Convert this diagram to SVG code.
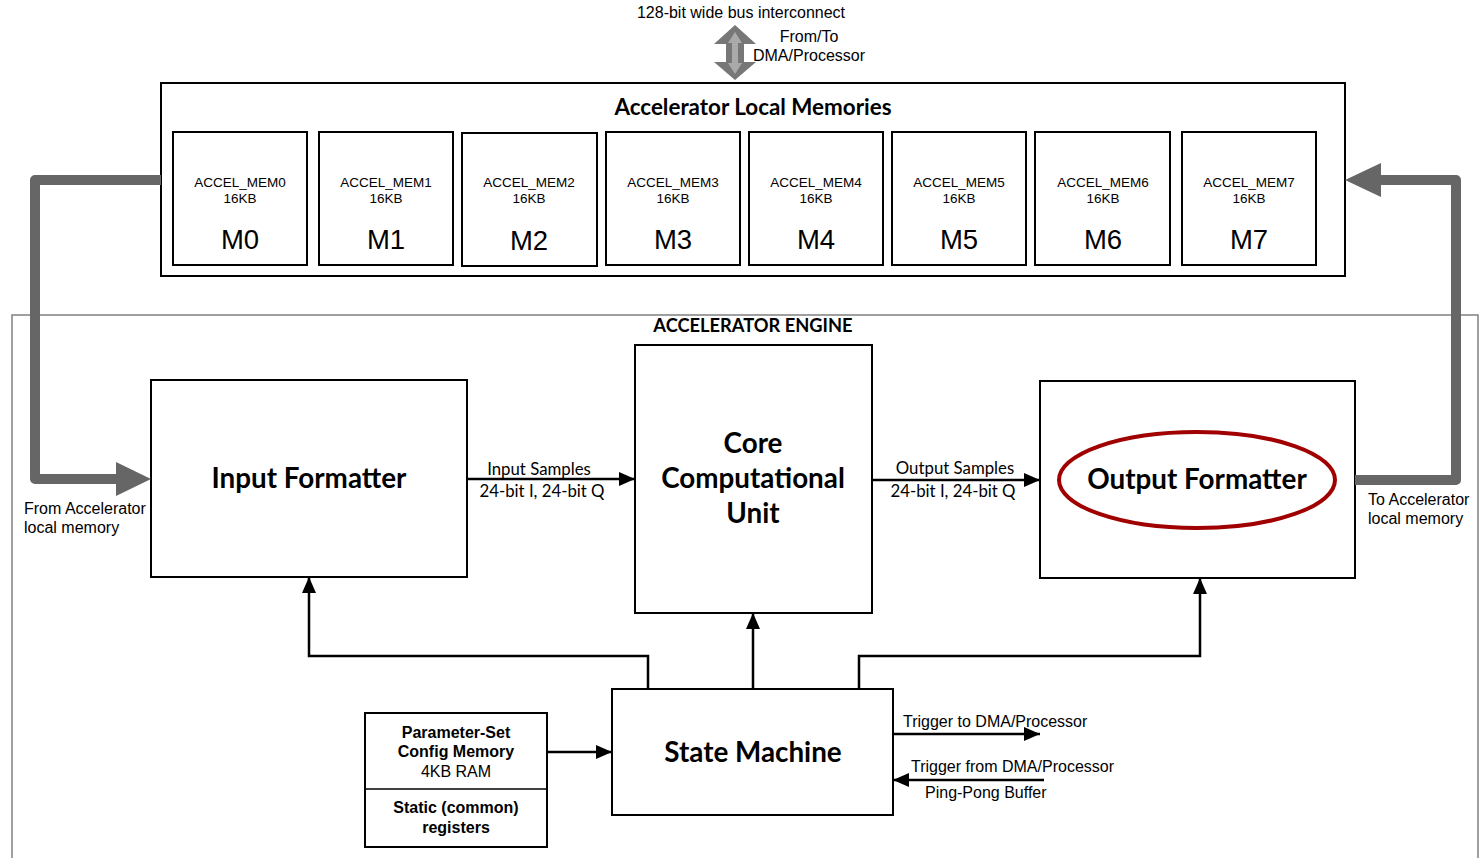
<svg xmlns="http://www.w3.org/2000/svg" width="1482" height="858" viewBox="0 0 1482 858">
<defs>
<style>
.box{fill:#fff;stroke:#000;stroke-width:2}
.ar{font-family:"Liberation Sans",Arial,sans-serif;fill:#000}
.ca{font-family:Lato,"Open Sans",sans-serif;fill:#000}
.b{font-weight:bold}
.mt{font-size:13.5px;text-anchor:middle}
.mb{font-size:27.5px;text-anchor:middle}
.big{font-size:27.8px;font-weight:bold;text-anchor:middle}
.lbl{font-size:16px}
.cl{font-size:16.8px}
.ln{fill:none;stroke:#000;stroke-width:2.5}
.thick{fill:none;stroke:#666;stroke-width:10;stroke-linejoin:round}
</style>
<marker id="ah2" viewBox="0 0 16 14" refX="16" refY="7" markerWidth="16" markerHeight="14" markerUnits="userSpaceOnUse" orient="auto">
<path d="M0,0 L16,7 L0,14 Z" fill="#000"/>
</marker>
</defs>
<rect width="1482" height="858" fill="#fff"/>

<g id="bus">
<text class="ar lbl" x="741" y="18" text-anchor="middle">128-bit wide bus interconnect</text>
<polygon points="735,25 756,44 744,44 744,62 756,62 735,80 714,62 726,62 726,44 714,44" fill="#777"/>
<polygon points="735,32 742,43 738,43 738,63 742,63 735,74 728,63 732,63 732,43 728,43" fill="#aaa"/>
<text class="ar lbl" x="809" y="42" text-anchor="middle">From/To</text>
<text class="ar lbl" x="809" y="61" text-anchor="middle">DMA/Processor</text>
</g>

<g id="local-memories">
<rect class="box" x="161" y="83" width="1184" height="193"/>
<text class="ca b" x="753" y="115" font-size="22.4" text-anchor="middle">Accelerator Local Memories</text>
</g>
<g id="M0"><rect class="box" x="173" y="132" width="134" height="133"/><text class="ar mt" x="240" y="187">ACCEL_MEM0</text><text class="ar mt" x="240" y="203">16KB</text><text class="ar mb" x="240" y="249">M0</text></g>
<g id="M1"><rect class="box" x="319" y="132" width="134" height="133"/><text class="ar mt" x="386" y="187">ACCEL_MEM1</text><text class="ar mt" x="386" y="203">16KB</text><text class="ar mb" x="386" y="249">M1</text></g>
<g id="M2"><rect class="box" x="462" y="133" width="135" height="133"/><text class="ar mt" x="529" y="187">ACCEL_MEM2</text><text class="ar mt" x="529" y="203">16KB</text><text class="ar mb" x="529" y="250">M2</text></g>
<g id="M3"><rect class="box" x="606" y="132" width="134" height="133"/><text class="ar mt" x="673" y="187">ACCEL_MEM3</text><text class="ar mt" x="673" y="203">16KB</text><text class="ar mb" x="673" y="249">M3</text></g>
<g id="M4"><rect class="box" x="749" y="132" width="134" height="133"/><text class="ar mt" x="816" y="187">ACCEL_MEM4</text><text class="ar mt" x="816" y="203">16KB</text><text class="ar mb" x="816" y="249">M4</text></g>
<g id="M5"><rect class="box" x="892" y="132" width="134" height="133"/><text class="ar mt" x="959" y="187">ACCEL_MEM5</text><text class="ar mt" x="959" y="203">16KB</text><text class="ar mb" x="959" y="249">M5</text></g>
<g id="M6"><rect class="box" x="1035" y="132" width="135" height="133"/><text class="ar mt" x="1103" y="187">ACCEL_MEM6</text><text class="ar mt" x="1103" y="203">16KB</text><text class="ar mb" x="1103" y="249">M6</text></g>
<g id="M7"><rect class="box" x="1182" y="132" width="134" height="133"/><text class="ar mt" x="1249" y="187">ACCEL_MEM7</text><text class="ar mt" x="1249" y="203">16KB</text><text class="ar mb" x="1249" y="249">M7</text></g>

<g id="engine">
<rect x="12" y="315" width="1466" height="560" fill="none" stroke="#808080" stroke-width="1.5"/>
<text class="ca b" x="753" y="332" font-size="18.3" text-anchor="middle">ACCELERATOR ENGINE</text>
</g>

<g id="input-formatter">
<rect class="box" x="151" y="380" width="316" height="197"/>
<text class="ca big" x="309" y="488">Input Formatter</text>
</g>
<g id="core">
<rect class="box" x="635" y="345" width="237" height="268"/>
<text class="ca big" x="753" y="453">Core</text>
<text class="ca big" x="753" y="488">Computational</text>
<text class="ca big" x="753" y="523">Unit</text>
</g>
<g id="output-formatter">
<rect class="box" x="1040" y="381" width="315" height="197"/>
<ellipse cx="1197" cy="480" rx="138" ry="48" fill="none" stroke="#a00000" stroke-width="4"/>
<text class="ca big" x="1197" y="489">Output Formatter</text>
</g>
<g id="state-machine">
<rect class="box" x="612" y="689" width="281" height="126"/>
<text class="ca big" x="753" y="762">State Machine</text>
</g>
<g id="param-memory">
<rect class="box" x="365" y="713" width="182" height="134" stroke-width="1.5"/>
<line x1="365" y1="789" x2="547" y2="789" stroke="#000" stroke-width="1.5"/>
<text class="ar b lbl" x="456" y="738" text-anchor="middle">Parameter-Set</text>
<text class="ar b lbl" x="456" y="757" text-anchor="middle">Config Memory</text>
<text class="ar lbl" x="456" y="777" text-anchor="middle">4KB RAM</text>
<text class="ar b lbl" x="456" y="813" text-anchor="middle">Static (common)</text>
<text class="ar b lbl" x="456" y="833" text-anchor="middle">registers</text>
</g>

<g id="connectors">
<path class="thick" d="M161,180 H35 V479 H118"/>
<polygon points="116,462 151,479 116,496" fill="#666"/>
<path class="thick" d="M1355,480 H1456 V180 H1380"/>
<polygon points="1381,163 1345,180 1381,197" fill="#666"/>

<line class="ln" x1="467" y1="479" x2="635" y2="479" marker-end="url(#ah2)"/>
<line class="ln" x1="872" y1="480" x2="1040" y2="480" marker-end="url(#ah2)"/>
<path class="ln" d="M648,689 V656 H309 V577" marker-end="url(#ah2)"/>
<line class="ln" x1="753" y1="689" x2="753" y2="613" marker-end="url(#ah2)"/>
<path class="ln" d="M859,689 V656 H1200 V578" marker-end="url(#ah2)"/>
<line class="ln" x1="547" y1="752" x2="612" y2="752" marker-end="url(#ah2)"/>
<line class="ln" x1="893" y1="734" x2="1040" y2="734" marker-end="url(#ah2)"/>
<line class="ln" x1="1044" y1="780" x2="893" y2="780" marker-end="url(#ah2)"/>

<text class="ca cl" x="539" y="475" text-anchor="middle">Input Samples</text>
<text class="ca cl" x="542" y="497" text-anchor="middle">24-bit I, 24-bit Q</text>
<text class="ca cl" x="955" y="474" text-anchor="middle">Output Samples</text>
<text class="ca cl" x="953" y="497" text-anchor="middle">24-bit I, 24-bit Q</text>
<text class="ar lbl" x="903" y="727">Trigger to DMA/Processor</text>
<text class="ar lbl" x="911" y="772">Trigger from DMA/Processor</text>
<text class="ar lbl" x="925" y="798">Ping-Pong Buffer</text>
<text class="ar lbl" x="24" y="514">From Accelerator</text>
<text class="ar lbl" x="24" y="533">local memory</text>
<text class="ar lbl" x="1368" y="505">To Accelerator</text>
<text class="ar lbl" x="1368" y="524">local memory</text>
</g>
</svg>
